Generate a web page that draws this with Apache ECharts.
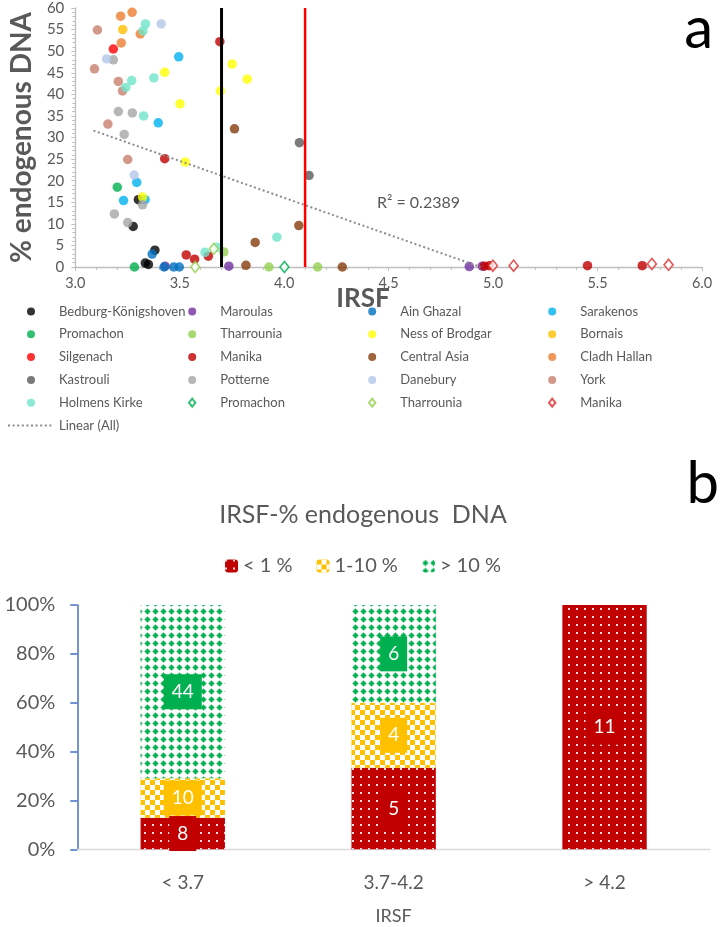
<!DOCTYPE html>
<html><head><meta charset="utf-8">
<script src="https://cdn.jsdelivr.net/npm/echarts@6/dist/echarts.min.js"></script>
<style>html,body{margin:0;padding:0;background:#fff}#c{width:726px;height:927px}</style>
</head><body><div id="c"></div>
<script>
// ---------- Panel a data: [IRSF, % endogenous DNA] ----------
const bedburg      = [[3.302,15.6],[3.277,9.4],[3.381,3.9],[3.335,0.9],[3.35,0.6]];
const maroulas     = [[3.43,0.2],[3.735,0.2],[4.886,0.1],[4.948,0.2]];
const ainGhazal    = [[3.368,3.0],[3.425,0],[3.471,0],[3.498,0]];
const sarakenos    = [[3.495,48.7],[3.397,33.4],[3.294,19.6],[3.231,15.4],[3.334,15.6]];
const promachon    = [[3.201,18.5],[3.283,0]];
const tharrounia   = [[3.711,3.5],[3.927,0],[4.16,0]];
const ness         = [[3.428,45.1],[3.501,37.8],[3.751,47.0],[3.823,43.5],[3.695,40.8],[3.526,24.3],[3.322,16.2]];
const bornais      = [[3.227,55.0]];
const silgenach    = [[3.182,50.5]];
const manika       = [[3.692,52.2],[3.428,25.1],[3.531,2.8],[3.571,1.8],[3.637,2.5],[4.958,0.2],[4.982,0.3],[5.452,0.3],[5.714,0.3]];
const centralAsia  = [[3.762,32.0],[3.861,5.7],[4.07,9.6],[3.817,0.4],[4.278,0]];
const cladhHallan  = [[3.217,58.1],[3.272,59.0],[3.22,51.9],[3.311,54.0]];
const kastrouli    = [[4.073,28.8],[4.119,21.2]];
const potterne     = [[3.182,48.0],[3.206,36.0],[3.273,35.7],[3.234,30.7],[3.322,14.4],[3.187,12.3],[3.251,10.3]];
const danebury     = [[3.411,56.3],[3.15,48.2],[3.282,21.3]];
const york         = [[3.106,54.9],[3.092,45.9],[3.206,43.0],[3.226,40.8],[3.156,33.1],[3.251,24.9]];
const holmensKirke = [[3.336,56.3],[3.324,54.7],[3.27,43.2],[3.242,41.6],[3.376,43.8],[3.327,35.0],[3.621,3.4],[3.678,4.6],[3.965,6.9]];
const promachonOpen  = [[4.001,0]];
const tharrouniaOpen = [[3.663,4.2],[3.574,0]];
const manikaOpen     = [[4.999,0.3],[5.098,0.3],[5.76,0.7],[5.84,0.5]];
const trendX = [3.087, 4.94];
const trendY = [31.6, 0];
const thresholds = [3.7, 4.1];
const r2Text = 'R² = 0.2389';
const xTicks = [3.0, 6.0, 0.5];   // min, max, step
const yTicks = [0, 60, 5];

// ---------- Panel b data ----------
const barCats = ['< 3.7', '3.7-4.2', '> 4.2'];
const segNames = ['< 1 %', '1-10 %', '> 10 %'];
const lt1  = [8, 5, 11];
const mid  = [10, 4, 0];
const gt10 = [44, 6, 0];

// ---------- styles ----------
const FONT = 'Lato, "Open Sans", sans-serif';
const GRAY = '#595959';
const DIAMOND = 'path://M4,0 L8,5 L4,10 L0,5 Z';

const scatterDefs = [
  {name:'Bedburg-Königshoven', data:bedburg, color:'#000000'},
  {name:'Maroulas', data:maroulas, color:'#7030a0'},
  {name:'Ain Ghazal', data:ainGhazal, color:'#0070c0'},
  {name:'Sarakenos', data:sarakenos, color:'#00b0f0'},
  {name:'Promachon', data:promachon, color:'#00b050'},
  {name:'Tharrounia', data:tharrounia, color:'#92d050'},
  {name:'Ness of Brodgar', data:ness, color:'#ffff00'},
  {name:'Bornais', data:bornais, color:'#ffc000'},
  {name:'Silgenach', data:silgenach, color:'#ff0000'},
  {name:'Manika', data:manika, color:'#c00000'},
  {name:'Central Asia', data:centralAsia, color:'#843c0c'},
  {name:'Cladh Hallan', data:cladhHallan, color:'#ed7d31'},
  {name:'Kastrouli', data:kastrouli, color:'#595959'},
  {name:'Potterne', data:potterne, color:'#a5a5a5'},
  {name:'Danebury', data:danebury, color:'#b4c7e7'},
  {name:'York', data:york, color:'#c7806e'},
  {name:'Holmens Kirke', data:holmensKirke, color:'#6fe3c9'},
  {name:'Promachon ', data:promachonOpen, color:'#00b050', open:true},
  {name:'Tharrounia ', data:tharrouniaOpen, color:'#92d050', open:true},
  {name:'Manika ', data:manikaOpen, color:'#e02b2b', open:true}
];

const series = scatterDefs.map(d => ({
  type:'scatter', name:d.name, data:d.data, xAxisIndex:0, yAxisIndex:0,
  symbol: d.open ? DIAMOND : 'circle',
  symbolSize: d.open ? [9,11] : 9.5,
  itemStyle: d.open ? {color:'#ffffff', borderColor:d.color, borderWidth:1.6} : {color:d.color},
  z:2, animation:false
}));

const thrColors = ['#000000', '#ff0000'];
const thrWidths = [3, 2.5];
thresholds.forEach((t, i) => {
  series.push({type:'line', name:'thr' + i, xAxisIndex:0, yAxisIndex:0,
    data:[[t, yTicks[0]], [t, yTicks[1]]], symbol:'none', silent:true,
    lineStyle:{color:thrColors[i], width:thrWidths[i]}, z:4, animation:false});
});
series.push({type:'line', name:'Linear (All)', xAxisIndex:0, yAxisIndex:0,
  data: trendX.map((x, i) => [x, trendY[i]]), symbol:'none', silent:true,
  itemStyle:{color:'#8c8c8c', opacity:0},
  lineStyle:{color:'#8c8c8c', width:2, type:[2, 2.6], opacity:1}, z:3, animation:false});

// bars
const counts = [lt1, mid, gt10];
const totals = barCats.map((_, i) => lt1[i] + mid[i] + gt10[i]);
const solid = ['#c00000', '#ffc000', '#00b050'];
const decals = [
  {symbol:'rect', symbolSize:1, color:'rgba(255,255,255,0.85)', dashArrayX:[1.5,5.8], dashArrayY:[1.5,5.8]},
  {symbol:'rect', symbolSize:1, color:'#ffffff', dashArrayX:[[5,5],[0,5,5,0]], dashArrayY:[5,0]},
  {symbol:'path://M5,0 L6,2.2 L7.8,2.2 L7.8,4 L10,5 L7.8,6 L7.8,7.8 L6,7.8 L5,10 L4,7.8 L2.2,7.8 L2.2,6 L0,5 L2.2,4 L2.2,2.2 L4,2.2 Z',
   symbolSize:1, color:'#00b050', dashArrayX:[6.6,0.6], dashArrayY:[6.6,0.6]}
];
const fills = ['#c00000', '#ffc000', '#ffffff'];
segNames.forEach((nm, k) => {
  series.push({type:'bar', name:nm, stack:'s', xAxisIndex:1, yAxisIndex:1, barWidth:'40%',
    data: counts[k].map((c, i) => ({value: c / totals[i] * 100, label:{show: c > 0}})),
    itemStyle:{color:fills[k], decal:decals[k]},
    label:{show:true, position:'inside', formatter: p => String(counts[k][p.dataIndex]),
      color:'#ffffff', fontSize:19, fontFamily:FONT, backgroundColor:solid[k], padding:[8,8]},
    animation:false});
});

const legendCols = [
  ['Bedburg-Königshoven','Promachon','Silgenach','Kastrouli','Holmens Kirke','Linear (All)'],
  ['Maroulas','Tharrounia','Manika','Potterne','Promachon '],
  ['Ain Ghazal','Ness of Brodgar','Central Asia','Danebury','Tharrounia '],
  ['Sarakenos','Bornais','Cladh Hallan','York','Manika ']
];
const openNames = ['Promachon ', 'Tharrounia ', 'Manika '];
const legendLeft = [2, 183, 363, 543];
const legends = legendCols.map((col, i) => ({
  orient:'vertical', left:legendLeft[i], top:300, itemWidth:46, itemHeight:8, itemGap:9.8,
  selectedMode:false, symbolKeepAspect:true,
  data: col.map(n => openNames.includes(n) ? {name:n, icon:DIAMOND}
                   : (n === 'Linear (All)' ? {name:n, itemStyle:{opacity:0}} : n)),
  formatter: n => n.trim(),
  textStyle:{fontSize:13, color:GRAY, fontFamily:FONT}
}));
legends.push({left:'center', top:551, itemWidth:13, itemHeight:13, itemGap:24, selectedMode:false,
  data:segNames, textStyle:{fontSize:20, color:GRAY, fontFamily:FONT}});

const option = {
  backgroundColor:'#ffffff',
  animation:false,
  textStyle:{fontFamily:FONT},
  title:[
    {text:'a', right:8, top:-5, textStyle:{fontSize:58, fontWeight:'normal', color:'#000', fontFamily:FONT}},
    {text:'b', right:2, top:450, textStyle:{fontSize:58, fontWeight:'normal', color:'#000', fontFamily:FONT}},
    {text:'IRSF-% endogenous  DNA', left:'center', top:497, textStyle:{fontSize:25, fontWeight:'normal', color:GRAY, fontFamily:FONT}}
  ],
  legend: legends,
  grid:[
    {left:67.5, right:24, top:8, height:259, containLabel:false},
    {left:77.3, right:16, top:605, height:244.3, containLabel:false}
  ],
  xAxis:[
    {type:'value', gridIndex:0, min:xTicks[0], max:xTicks[1], interval:xTicks[2],
     axisLine:{lineStyle:{color:'#bfbfbf', width:1.3}},
     axisTick:{show:true, length:4, lineStyle:{color:'#bfbfbf'}},
     minorTick:{show:true, splitNumber:5, length:3, lineStyle:{color:'#bfbfbf'}},
     splitLine:{show:false},
     axisLabel:{formatter: v => v.toFixed(1), color:GRAY, fontSize:14.5, margin:9, fontFamily:FONT}},
    {type:'category', gridIndex:1, data:barCats,
     axisLine:{lineStyle:{color:'#d9d9d9', width:1.3}}, axisTick:{show:false},
     axisLabel:{color:GRAY, fontSize:19, margin:24, fontFamily:FONT},
     name:'IRSF', nameLocation:'middle', nameGap:58,
     nameTextStyle:{fontSize:18, color:GRAY, fontFamily:FONT}}
  ],
  yAxis:[
    {type:'value', gridIndex:0, min:yTicks[0], max:yTicks[1], interval:yTicks[2],
     axisLine:{show:true, lineStyle:{color:'#bfbfbf', width:1.3}},
     axisTick:{show:true, length:4, lineStyle:{color:'#bfbfbf'}},
     minorTick:{show:true, splitNumber:5, length:3, lineStyle:{color:'#bfbfbf'}},
     splitLine:{show:false},
     axisLabel:{color:GRAY, fontSize:15, margin:11, fontFamily:FONT},
     name:'% endogenous DNA', nameLocation:'middle', nameGap:35,
     nameTextStyle:{fontSize:28, fontWeight:'bold', color:GRAY, fontFamily:FONT}},
    {type:'value', gridIndex:1, min:0, max:100, interval:20,
     axisLine:{show:true, lineStyle:{color:'#4472c4', width:1.5}},
     axisTick:{show:true, length:7, lineStyle:{color:'#4472c4', width:1.5}},
     splitLine:{show:false},
     axisLabel:{formatter:'{value}%', color:GRAY, fontSize:20, margin:22, fontFamily:FONT}}
  ],
  graphic:[
    {type:'text', left:377, top:195, style:{text:r2Text, fontSize:16, fill:GRAY, fontFamily:FONT}},
    {type:'text', left:'center', top:286, style:{text:'IRSF', fontSize:26, fontWeight:'bold', fill:GRAY, fontFamily:FONT}}
  ],
  series: series
};

const chart = echarts.init(document.getElementById('c'), null, {renderer:'canvas'});
chart.setOption(option);
</script>
</body></html>
